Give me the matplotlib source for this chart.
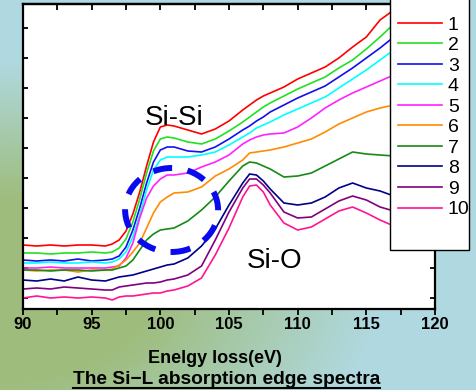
import numpy as np
import matplotlib
matplotlib.use('Agg')
import matplotlib.pyplot as plt
from matplotlib.patches import Ellipse, Rectangle
from matplotlib.lines import Line2D

plt.rcParams['font.family'] = ['Liberation Sans', 'DejaVu Sans']

# energy loss (eV) and intensity (a.u.)
energy = [90, 91, 92, 93, 94, 95, 96, 96.5, 97, 97.5, 98, 98.5, 99, 99.5, 100, 100.5, 101,
          102, 103, 104, 105, 106, 106.5, 107, 107.5, 108, 109, 110, 111, 112, 113, 114,
          115, 116, 117]

s1 = [64, 63, 64, 63, 64, 64, 63, 65, 69, 78, 95, 117, 143, 167, 182, 184, 183,
      179, 175, 180, 188, 199, 204, 209, 213, 216, 222, 230, 236, 242, 251, 262, 272, 289, 299]
s2 = [56, 56, 55, 56, 56, 57, 56, 57, 61, 70, 87, 110, 136, 158, 170, 172, 171,
      167, 165, 170, 178, 187, 192, 197, 202, 206, 213, 220, 226, 232, 241, 249, 260, 272, 285]
s3 = [49, 48, 49, 48, 50, 48, 49, 50, 53, 62, 79, 101, 126, 147, 159, 162, 162,
      158, 157, 162, 170, 179, 183, 188, 192, 197, 204, 211, 217, 223, 232, 241, 251, 261, 272]
s4 = [46, 46, 47, 46, 46, 47, 46, 47, 50, 57, 72, 94, 119, 139, 149, 152, 152,
      152, 154, 157, 164, 172, 176, 181, 184, 187, 194, 200, 206, 212, 221, 230, 239, 249, 259]
s5 = [41, 41, 42, 41, 41, 41, 41, 42, 43, 51, 66, 91, 111, 123, 130, 134, 134,
      136, 142, 147, 154, 165, 169, 172, 174, 175, 176, 182, 191, 201, 209, 216, 222, 228, 234]
s6 = [39, 38, 39, 39, 37, 39, 39, 40, 44, 49, 57, 66, 81, 96, 107, 112, 116,
      117, 122, 133, 140, 149, 156, 157, 158, 159, 162, 166, 170, 177, 185, 191, 197, 201, 204]
s7 = [39, 39, 38, 39, 39, 38, 39, 39, 41, 43, 49, 59, 69, 75, 79, 80, 81,
      88, 99, 112, 128, 143, 147, 146, 143, 140, 132, 133, 136, 143, 150, 157, 155, 154, 153]
s8 = [29, 28, 30, 28, 32, 29, 28, 30, 32, 33, 34, 36, 38, 40, 42, 44, 45,
      51, 63, 80, 104, 126, 135, 134, 128, 120, 106, 104, 106, 112, 121, 126, 121, 118, 113]
s9 = [20, 21, 20, 22, 21, 20, 19, 19, 22, 23, 24, 25, 26, 26, 27, 29, 30,
      34, 43, 69, 97, 121, 130, 130, 124, 116, 97, 91, 92, 100, 108, 113, 109, 102, 98]
s10 = [11, 13, 11, 12, 11, 12, 11, 9, 12, 13, 13, 14, 15, 16, 16, 18, 19,
       23, 31, 54, 81, 112, 123, 124, 117, 104, 86, 79, 82, 90, 98, 102, 96, 89, 83]

series = [s1, s2, s3, s4, s5, s6, s7, s8, s9, s10]
labels = ['1', '2', '3', '4', '5', '6', '7', '8', '9', '10']
colors = ['#ff0000', '#22e022', '#1010f0', '#00ffff', '#ff22ff',
          '#ff8c00', '#168a16', '#000088', '#800080', '#ff1493']

W, H = 477, 390
fig = plt.figure(figsize=(W / 100, H / 100), dpi=100)

# background gradient (green at lower left, light blue elsewhere)
yy, xx = np.mgrid[0:H, 0:W]
r = np.sqrt((xx / 380.0) ** 2 + ((yy - 290) / 230.0) ** 2)
w = np.clip((1 - r) / 0.6, 0, 1)[..., None]
blue = np.array([0.69, 0.85, 0.88])
green = np.array([0.62, 0.74, 0.49])
bg = fig.add_axes([0, 0, 1, 1], zorder=-5)
bg.imshow(blue * (1 - w) + green * w, aspect='auto', extent=[0, 1, 0, 1])
bg.axis('off')

ax = fig.add_axes([23 / W, 81 / H, 412 / W, 305 / H])
ax.set_facecolor('white')
for c, s, lab in zip(colors, series, labels):
    ax.plot(energy, s, color=c, lw=1.2, label=lab)

ax.add_patch(Ellipse((100.82, 99), 6.77, 84, fill=False, edgecolor='#0a0aee',
                     lw=4.3, linestyle=(0, (3.2, 2.6)), zorder=4))

ax.text(98.85, 184, 'Si-Si', fontsize=20, ha='left', va='baseline')
ax.text(106.3, 41, 'Si-O', fontsize=20, ha='left', va='baseline')

ax.set_xlim(90, 120)
ax.set_ylim(0, 305)
ax.set_xticks(np.arange(90, 121, 5))
ax.set_xticks(np.arange(90, 120, 2.5), minor=True)
ax.set_yticks(np.arange(11, 300, 30))
ax.tick_params(axis='x', which='both', direction='out', length=4.5, width=1.3,
               labelsize=12, pad=1.5)
ax.tick_params(axis='y', direction='in', length=3.5, width=1.3, left=True, right=True,
               labelleft=False)
for lab in ax.get_xticklabels():
    lab.set_fontweight('bold')
for sp in ax.spines.values():
    sp.set_linewidth(1.6)

top = ax.secondary_xaxis('top')
top.set_xticks(np.arange(90, 121, 5))
top.set_xticks(np.arange(90, 120, 2.5), minor=True)
top.tick_params(axis='x', which='both', direction='in', length=4.5, width=1.3,
                labeltop=False)
top.spines['top'].set_linewidth(1.6)

# legend box sticking out of the top right corner
fig.add_artist(Rectangle((390 / W, 140 / H), 79 / W, 260 / H, transform=fig.transFigure,
                         facecolor='white', edgecolor='black', lw=1.0, zorder=3))
handles, labs = ax.get_legend_handles_labels()
fig.legend(handles, labs, loc='upper left', bbox_to_anchor=(398 / W, (H - 16) / H),
           frameon=False, fontsize=14, handlelength=2.27, handletextpad=0.3,
           labelspacing=0.15, borderpad=0, borderaxespad=0)

fig.text(148 / W, (H - 363) / H, 'Enelgy loss(eV)', fontsize=13, fontweight='bold',
         ha='left', va='baseline')
t2 = fig.text(73 / W, (H - 384) / H, 'The Si\u2212L absorption edge spectra', fontsize=13.8,
              fontweight='bold', ha='left', va='baseline')
fig.canvas.draw()
bb = t2.get_window_extent()
fig.add_artist(Line2D([bb.x0 / W, bb.x1 / W], [(H - 388) / H] * 2,
                      transform=fig.transFigure, color='black', lw=1.5))

fig.savefig('out.png', dpi=100)
plt.close(fig)
